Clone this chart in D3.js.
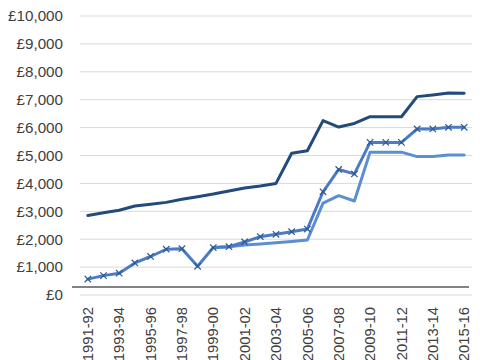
<!DOCTYPE html>
<html><head><meta charset="utf-8">
<script src="https://cdn.jsdelivr.net/npm/d3@7/dist/d3.min.js"></script>
<style>body{margin:0;background:#fff}svg{display:block}</style>
</head><body>
<svg id="c" width="485" height="360"></svg>
<script>
const years = ["1991-92","1992-93","1993-94","1994-95","1995-96","1996-97","1997-98","1998-99","1999-00","2000-01","2001-02","2002-03","2003-04","2004-05","2005-06","2006-07","2007-08","2008-09","2009-10","2010-11","2011-12","2012-13","2013-14","2014-15","2015-16"];
const seriesTop = [2850,2950,3040,3190,3250,3320,3430,3525,3620,3730,3835,3910,4000,5080,5170,6250,6020,6150,6390,6390,6390,7110,7170,7240,7230];
const seriesMarked = [570,695,780,1150,1380,1640,1660,1030,1700,1730,1900,2090,2175,2270,2365,3700,4500,4340,5470,5470,5470,5950,5950,6010,6010];
const seriesLight = [null,null,null,null,null,null,null,null,1700,1730,1790,1830,1870,1920,1970,3290,3560,3370,5120,5120,5120,4960,4960,5020,5020];
const yTicks = [0,1000,2000,3000,4000,5000,6000,7000,8000,9000,10000];

const svg = d3.select("#c");
const pL = 80, pR = 472, pT = 16, pB = 295;
const x = d3.scaleBand().domain(years).range([pL, pR]);
const y = d3.scaleLinear().domain([0, 10000]).range([pB, pT]);
const cx = d => x(d) + x.bandwidth() / 2;
const font = "'Liberation Sans', Arial, sans-serif";

// gridlines
svg.append("g").selectAll("line").data(yTicks).join("line")
  .attr("x1", pL).attr("x2", pR)
  .attr("y1", d => y(d)).attr("y2", d => y(d))
  .attr("stroke", "#d9d9d9").attr("stroke-width", 1);

// y axis labels
const yAxis = d3.axisLeft(y).tickValues(yTicks).tickSize(0).tickPadding(17)
  .tickFormat(d => "£" + d3.format(",")(d));
const ya = svg.append("g").attr("transform", `translate(${pL},0)`).call(yAxis);
ya.select(".domain").remove();
ya.selectAll("text").attr("font-family", font).attr("font-size", 15.2).attr("fill", "#404040");

// category axis line
svg.append("line").attr("x1", pL - 8).attr("x2", pR - 3)
  .attr("y1", y(290)).attr("y2", y(290))
  .attr("stroke", "#595959").attr("stroke-width", 1.5);

// x labels
const xAxis = d3.axisBottom(x).tickValues(years.filter((d, i) => i % 2 === 0)).tickSize(0);
const xa = svg.append("g").attr("transform", `translate(0,${y(290)})`).call(xAxis);
xa.select(".domain").remove();
xa.selectAll("text")
  .attr("font-family", font).attr("font-size", 14.8).attr("fill", "#404040")
  .attr("text-anchor", "end")
  .attr("transform", "rotate(-90)")
  .attr("x", -20).attr("y", 0).attr("dy", "0.35em");

function drawLine(vals, color) {
  const line = d3.line().defined(d => d.v !== null).x(d => cx(d.k)).y(d => y(d.v));
  svg.append("path").datum(years.map((k, i) => ({k, v: vals[i]})))
    .attr("d", line).attr("fill", "none").attr("stroke", color)
    .attr("stroke-width", 3).attr("stroke-linejoin", "round").attr("stroke-linecap", "round");
}
drawLine(seriesLight, "#5b8fd1");
drawLine(seriesMarked, "#4a7bc4");
drawLine(seriesTop, "#234a7c");

// x markers
const ms = 3.2;
const mk = svg.append("g").selectAll("g").data(years.map((k, i) => ({k, v: seriesMarked[i]}))).join("g")
  .attr("transform", d => `translate(${cx(d.k)},${y(d.v)})`);
mk.append("path").attr("d", `M${-ms},${-ms}L${ms},${ms}M${-ms},${ms}L${ms},${-ms}`)
  .attr("stroke", "#2e5a92").attr("stroke-width", 1.2).attr("fill", "none");
</script>
</body></html>
